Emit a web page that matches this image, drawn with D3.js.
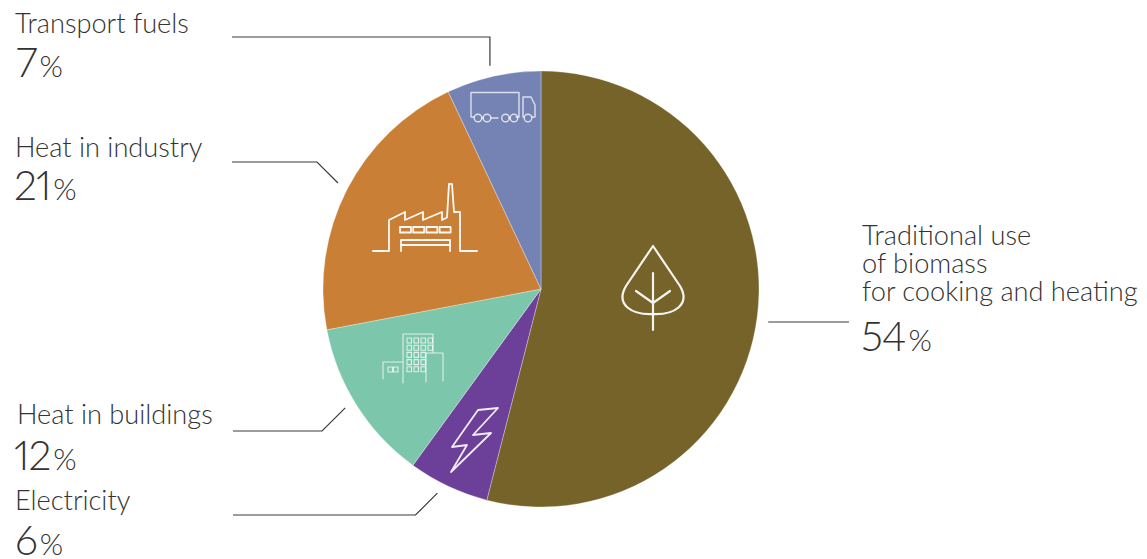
<!DOCTYPE html>
<html>
<head>
<meta charset="utf-8">
<script src="https://cdn.jsdelivr.net/npm/d3@7"></script>
<style>
  html, body { margin: 0; padding: 0; background: #fff; }
  svg { display: block; }
  text { font-family: Lato, "Noto Sans", sans-serif; font-weight: 300; fill: #333; font-variant-numeric: proportional-nums; }
</style>
</head>
<body>
<svg id="chart" width="1147" height="559"></svg>
<script>
// Final use of renewable energy by sector, clockwise from twelve o'clock
const categories = ["Traditional use of biomass for cooking and heating", "Electricity", "Heat in buildings", "Heat in industry", "Transport fuels"];
const shares = [54, 6, 12, 21, 7];
const sliceColors = ["#75632a", "#6c3f99", "#7cc6ac", "#c98036", "#7483b3"];
const labelLines = [
  ["Traditional use", "of biomass", "for cooking and heating"],
  ["Electricity"],
  ["Heat in buildings"],
  ["Heat in industry"],
  ["Transport fuels"]
];

const width = 1147, height = 559;
const cx = 541, cy = 289, radius = 218, leaderRadius = 229;

const svg = d3.select("#chart");
const pie = d3.pie().sort(null).value(d => d)(shares);
const arc = d3.arc().innerRadius(0).outerRadius(radius);

const g = svg.append("g").attr("transform", `translate(${cx},${cy})`);
g.selectAll("path").data(pie).join("path")
  .attr("d", arc)
  .attr("fill", (d, i) => sliceColors[i])
  .attr("stroke", "#fff")
  .attr("stroke-opacity", 0.5)
  .attr("stroke-width", 0.6);

// Label placement per slice: text column, first baseline, leader's far end and angular nudge (radians)
const labelLayout = [
  { x: 862, y: 244.7, pctX: 861, lineEndX: 849, lineY: 322, big: 351, nudge: 0 },
  { x: 15, y: 509.7, pctX: 15, lineEndX: 233, lineY: 515, big: 554.5, nudge: 0.03 },
  { x: 17, y: 423.7, pctX: 14, lineEndX: 233, lineY: 431, big: 470, nudge: 0.02 },
  { x: 15, y: 156.7, pctX: 14, lineEndX: 232, lineY: 162, big: 200, nudge: 0.01 },
  { x: 15, y: 32.7, pctX: 16, lineEndX: 232, lineY: 37, big: 77, nudge: -0.005 }
];

// Leaders start just off the rim, at the middle of each slice
const anchor = (d, i) => {
  const a = (d.startAngle + d.endAngle) / 2 + labelLayout[i].nudge;
  return [cx + leaderRadius * Math.sin(a), cy - leaderRadius * Math.cos(a)];
};
const line = d3.line();
const leaderPoints = (d, i) => {
  const [ax, ay] = anchor(d, i), l = labelLayout[i];
  if (i === 0) return [[ax, l.lineY], [l.lineEndX, l.lineY]];
  if (i === 4) return [[ax, ay], [ax, l.lineY], [l.lineEndX, l.lineY]];
  const elbowX = ax - Math.abs(ay - l.lineY);
  return [[ax, ay], [elbowX, l.lineY], [l.lineEndX, l.lineY]];
};
svg.append("g").selectAll("path").data(pie).join("path")
  .attr("d", (d, i) => line(leaderPoints(d, i)))
  .attr("fill", "none")
  .attr("stroke", "#3a3a3a")
  .attr("stroke-width", 1.2);

// Category names and percentages
const labels = svg.append("g").selectAll("g").data(shares).join("g");
labels.each(function (v, i) {
  const sel = d3.select(this), l = labelLayout[i];
  sel.selectAll(".name").data(labelLines[i]).join("text")
    .attr("class", "name")
    .attr("x", l.x)
    .attr("y", (t, j) => l.y + j * 28)
    .attr("font-size", 27.2)
    .text(t => t);
  const pct = sel.append("text").attr("x", l.pctX).attr("y", l.big);
  pct.append("tspan").attr("font-size", 41).attr("letter-spacing", -1).text(v);
  pct.append("tspan").attr("font-size", 30).attr("dx", 3).text("%");
});

// White outline pictograms inside the slices
const icons = svg.append("g").attr("fill", "none").attr("stroke", "#fff").attr("stroke-linejoin", "round").attr("stroke-linecap", "round");

// Leaf
const leaf = icons.append("g").attr("stroke-width", 2.2).attr("stroke-opacity", 0.92);
leaf.append("path").attr("d", "M653,246 L626,286 C615,305 632,315 653,314 C674,315 691,305 680,286 Z");
leaf.append("path").attr("d", "M653,273 V330 M636,291 L653,303 L670,291");

// Lightning bolt
icons.append("path").attr("stroke-width", 1.8).attr("stroke-opacity", 0.9)
  .attr("d", "M478,410 L498,408 L473,435 L491,433 L451,472 L467,445 L452,447 Z");

// Buildings
const bld = icons.append("g").attr("stroke-width", 1.1).attr("stroke-opacity", 0.75);
bld.append("path").attr("d", "M403,383 V334 H433 V353 M426,382 V353 H443 V381 M383,379 V362 H403");
d3.range(5).forEach(r => d3.range(4).forEach(c => {
  if (c === 3 && r > 1) return;
  bld.append("rect").attr("x", 407 + c * 7).attr("y", 338 + r * 7.2).attr("width", 4.5).attr("height", 5);
}));
bld.append("rect").attr("x", 388).attr("y", 367).attr("width", 4.5).attr("height", 5);
bld.append("rect").attr("x", 393.5).attr("y", 367).attr("width", 4.5).attr("height", 5);

// Factory
const fac = icons.append("g").attr("stroke-width", 1.8).attr("stroke-opacity", 0.95);
fac.append("path").attr("d", "M373,251 H389 V220 L405,212 V220 L423,212 V220 L442,212 V220 L447,217.5 L449,184 H452 L454,212 L460,212 V251 H477");
d3.range(4).forEach(c => fac.append("rect").attr("x", 400 + c * 13.2).attr("y", 227).attr("width", 11).attr("height", 5.5));
fac.append("path").attr("d", "M401,251 V240 H450 V251 M401,245 H450");

// Truck
const truck = icons.append("g").attr("stroke-width", 1.4).attr("stroke-opacity", 0.75);
truck.append("path").attr("d", "M474,117 H471 V92.5 H519 V117 H516 M498,118 H491 M523,117 V97 H531 L535,105 V117 H532 M523,117 H524 M482,118 H483 M509,118 H510");
[478, 487, 505.5, 514, 528].forEach(x => truck.append("circle").attr("cx", x).attr("cy", 118).attr("r", 3.8));
</script>
</body>
</html>
